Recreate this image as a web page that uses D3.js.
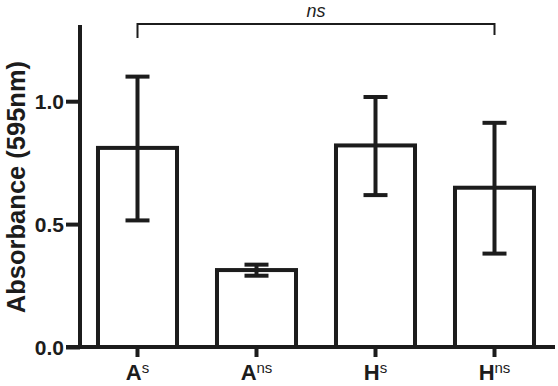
<!DOCTYPE html>
<html>
<head>
<meta charset="utf-8">
<script src="https://cdn.jsdelivr.net/npm/d3@7"></script>
<style>
  body { margin: 0; background: #fff; }
  text { font-family: "Liberation Sans", Arial, sans-serif; fill: #1c1c1c; }
</style>
</head>
<body>
<div id="chart"></div>
<script>
// data
const groups = ["A", "A", "H", "H"];
const supers = ["s", "ns", "s", "ns"];
const means = [0.81, 0.313, 0.82, 0.648];
const upper = [1.10, 0.335, 1.017, 0.912];
const lower = [0.515, 0.29, 0.618, 0.38];
const yTicks = [0.0, 0.5, 1.0];

const width = 558;
const height = 386;
const ink = "#1c1c1c";

const svg = d3.select("#chart")
    .append("svg")
    .attr("width", width)
    .attr("height", height);

// x scale for the four groups
const x = d3.scaleBand()
    .domain(d3.range(groups.length))
    .range([78, 554])
    .paddingInner(0.336)
    .paddingOuter(0.168);

// y scale for absorbance
const y = d3.scaleLinear()
    .domain([0, 1.31])
    .range([347, 25]);

// bars
svg.append("g")
    .selectAll("rect")
    .data(means)
    .join("rect")
    .attr("x", (d, i) => x(i))
    .attr("y", d => y(d))
    .attr("width", x.bandwidth())
    .attr("height", d => y(0) - y(d))
    .attr("fill", "#fff")
    .attr("stroke", ink)
    .attr("stroke-width", 4);

// error bars
const err = svg.append("g")
    .attr("stroke", ink)
    .attr("stroke-width", 4);

means.forEach((m, i) => {
    const cx = x(i) + x.bandwidth() / 2;
    err.append("line")
        .attr("x1", cx).attr("x2", cx)
        .attr("y1", y(lower[i])).attr("y2", y(upper[i]));
    [upper[i], lower[i]].forEach(v => {
        err.append("line")
            .attr("x1", cx - 12).attr("x2", cx + 12)
            .attr("y1", y(v)).attr("y2", y(v));
    });
});

// y axis
const yAxis = svg.append("g")
    .attr("transform", "translate(80,0)")
    .call(d3.axisLeft(y).tickValues(yTicks).tickFormat(d3.format(".1f")).tickSize(14).tickSizeOuter(0));
yAxis.select(".domain").remove();
yAxis.append("line")
    .attr("x1", 0).attr("x2", 0)
    .attr("y1", y(1.31)).attr("y2", y(0) + 2)
    .attr("stroke", ink).attr("stroke-width", 4);
yAxis.selectAll(".tick line").attr("stroke", ink).attr("stroke-width", 4);
yAxis.selectAll(".tick text")
    .attr("x", -16)
    .attr("dy", "0.36em")
    .style("font-size", "21px")
    .style("font-weight", "bold")
    .attr("fill", ink);

// x axis
const xAxis = svg.append("g")
    .attr("transform", `translate(0,${y(0)})`)
    .call(d3.axisBottom(x).tickSize(10).tickSizeOuter(0).tickFormat(""));
xAxis.select(".domain").remove();
xAxis.append("line")
    .attr("x1", 66).attr("x2", 555)
    .attr("stroke", ink).attr("stroke-width", 4);
xAxis.selectAll(".tick line").attr("stroke", ink).attr("stroke-width", 4);

// x labels with superscripts
const xl = svg.append("g")
    .selectAll("text")
    .data(groups)
    .join("text")
    .attr("x", (d, i) => x(i) + x.bandwidth() / 2)
    .attr("y", 380)
    .attr("text-anchor", "middle")
    .style("font-size", "22px")
    .style("font-weight", "bold");
xl.append("tspan").text(d => d);
xl.append("tspan")
    .attr("dy", -7)
    .style("font-size", "15px")
    .style("font-weight", "normal")
    .text((d, i) => supers[i]);

// y axis title
svg.append("text")
    .attr("transform", "rotate(-90)")
    .attr("x", -187)
    .attr("y", 25)
    .attr("text-anchor", "middle")
    .style("font-size", "25.5px")
    .style("font-weight", "bold")
    .text("Absorbance (595nm)");

// significance bracket
const bx1 = x(0) + x.bandwidth() / 2;
const bx2 = x(3) + x.bandwidth() / 2;
svg.append("path")
    .attr("d", `M${bx1},38V24H${bx2}V35`)
    .attr("fill", "none")
    .attr("stroke", ink)
    .attr("stroke-width", 2);

svg.append("text")
    .attr("x", (bx1 + bx2) / 2)
    .attr("y", 17)
    .attr("text-anchor", "middle")
    .style("font-size", "18px")
    .style("font-style", "italic")
    .text("ns");
</script>
</body>
</html>
